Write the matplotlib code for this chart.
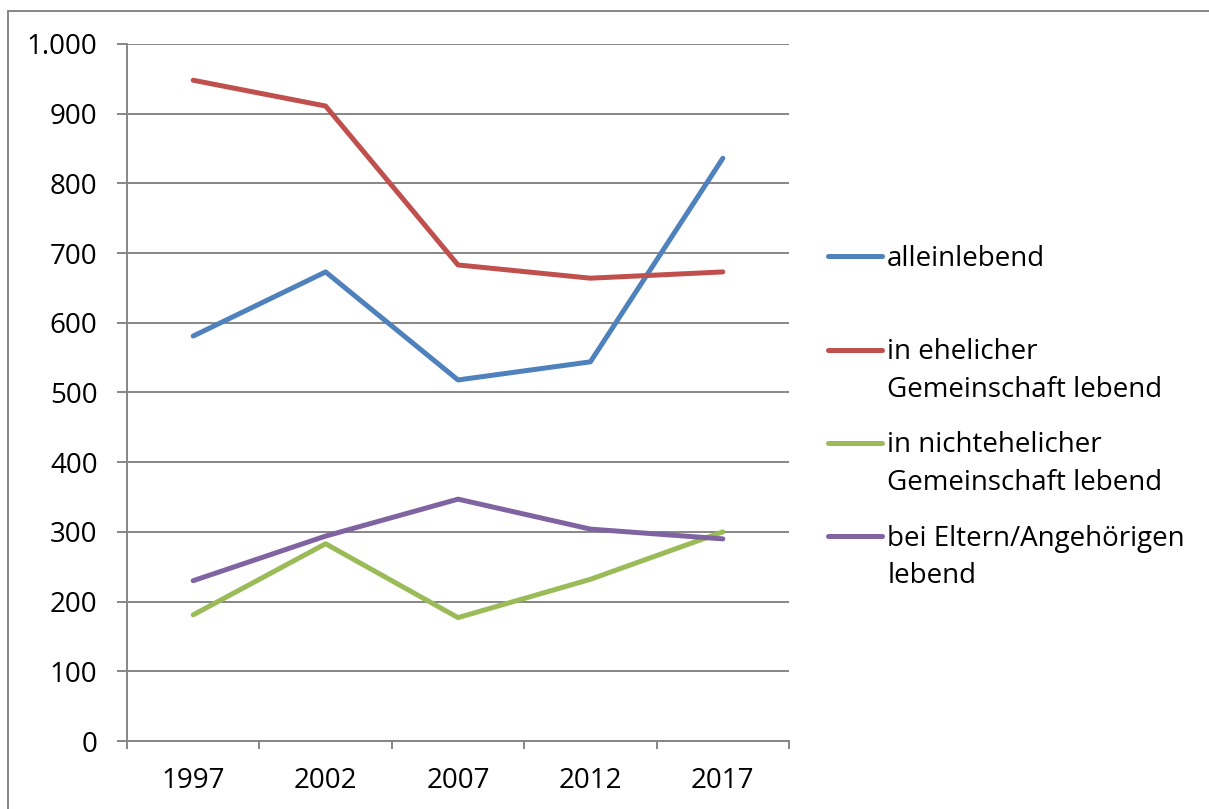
import matplotlib
matplotlib.use('Agg')
import matplotlib.pyplot as plt
from matplotlib.patches import Rectangle
from matplotlib.ticker import FuncFormatter, FixedLocator
from matplotlib.legend_handler import HandlerLine2D

years = ['1997', '2002', '2007', '2012', '2017']
alleinlebend = [581, 673, 518, 544, 836]
ehelich = [948, 911, 683, 664, 673]
nichtehelich = [181, 283, 177, 232, 300]
eltern = [230, 294, 347, 304, 290]

labels = [
    'alleinlebend\n ',
    'in ehelicher\nGemeinschaft lebend',
    'in nichtehelicher\nGemeinschaft lebend',
    'bei Eltern/Angehörigen\nlebend',
]
colors = ['#4F81BD', '#C0504D', '#9BBB59', '#8064A2']
grid_color = '#868686'

plt.rcParams['font.family'] = ['Open Sans', 'DejaVu Sans']


class TopLineHandler(HandlerLine2D):
    # move legend line up to the first text line, Excel style
    def create_artists(self, legend, orig_handle, xdescent, ydescent,
                       width, height, fontsize, trans):
        artists = super().create_artists(legend, orig_handle, xdescent, ydescent,
                                         width, height, fontsize, trans)
        for a in artists:
            y = a.get_ydata()
            a.set_ydata([v + fontsize * 0.8 for v in y])
        return artists


fig = plt.figure(figsize=(12.09, 8.09), dpi=100)
W, H = 1209, 809
ax = fig.add_axes([127 / W, (H - 741) / H, (789 - 127) / W, (741 - 44) / H])

x = list(range(len(years)))
for vals, col, lab in zip([alleinlebend, ehelich, nichtehelich, eltern], colors, labels):
    ax.plot(x, vals, color=col, lw=3.6, label=lab, solid_capstyle='round',
            solid_joinstyle='round', zorder=3)

ax.set_xlim(-0.5, len(years) - 0.5)
ax.set_ylim(0, 1000)
ax.set_yticks(range(0, 1001, 100))
ax.yaxis.set_major_formatter(FuncFormatter(lambda v, p: f'{int(v):,}'.replace(',', '.')))
ax.grid(axis='y', color=grid_color, lw=1.4, zorder=1)
ax.set_axisbelow(True)

ax.set_xticks(x)
ax.set_xticklabels(years)
ax.xaxis.set_minor_locator(FixedLocator([i - 0.5 for i in range(len(years) + 1)]))
ax.tick_params(axis='x', which='major', length=0, pad=19, labelsize=20)
ax.tick_params(axis='x', which='minor', length=6, width=1.4, color=grid_color, direction='out')
ax.tick_params(axis='y', length=7.2, width=1.4, color=grid_color, pad=14, labelsize=20)

for s in ['top', 'right']:
    ax.spines[s].set_visible(False)
for s in ['left', 'bottom']:
    ax.spines[s].set_color(grid_color)
    ax.spines[s].set_linewidth(1.4)

leg = ax.legend(loc='upper left', bbox_to_anchor=(828 / W, (H - 245) / H),
                bbox_transform=fig.transFigure, frameon=False, fontsize=20,
                handlelength=1.95, handletextpad=0.18, labelspacing=1.0,
                borderaxespad=0, borderpad=0,
                handler_map={plt.Line2D: TopLineHandler()})
for t in leg.get_texts():
    t.set_linespacing(1.45)

fig.patches.append(Rectangle((7.5 / W, -0.1), 2, (H - 11) / H + 0.1,
                             transform=fig.transFigure, fill=False,
                             edgecolor=grid_color, lw=1.4))

fig.savefig('out.png', dpi=100)
